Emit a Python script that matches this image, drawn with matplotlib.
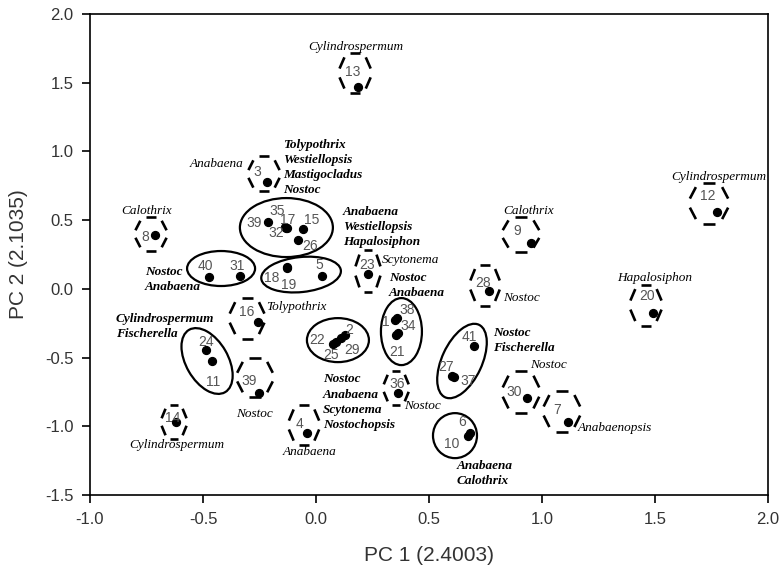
import numpy as np
import matplotlib
matplotlib.use('Agg')
import matplotlib.pyplot as plt
from matplotlib import transforms
from matplotlib.patches import Ellipse
from matplotlib.collections import LineCollection

# strain numbers and their PCA scores
ids = [1, 2, 3, 4, 5, 6, 7, 8, 9, 10, 11, 12, 13, 14, 15, 16, 17, 18, 19, 20,
       21, 22, 23, 24, 25, 26, 27, 28, 29, 30, 31, 32, 34, 35, 36, 37, 38, 39,
       39, 40, 41]
pc1 = [0.350, 0.128, -0.217, -0.040, 0.027, 0.681, 1.115, -0.712, 0.951, 0.673,
       -0.460, 1.774, 0.186, -0.619, -0.058, -0.257, -0.133, -0.128, -0.128, 1.491,
       0.354, 0.075, 0.230, -0.487, 0.088, -0.080, 0.602, 0.765, 0.111, 0.934,
       -0.336, -0.128, 0.363, -0.138, 0.363, 0.612, 0.358, -0.212,
       -0.252, -0.473, 0.699]
pc2 = [-0.227, -0.336, 0.777, -1.050, 0.093, -1.050, -0.969, 0.390, 0.333, -1.071,
       -0.525, 0.559, 1.470, -0.969, 0.435, -0.242, 0.443, 0.159, 0.152, -0.176,
       -0.336, -0.402, 0.108, -0.445, -0.387, 0.355, -0.635, -0.016, -0.358, -0.795,
       0.093, 0.440, -0.322, 0.448, -0.758, -0.645, -0.213, 0.486,
       -0.758, 0.086, -0.416]

# where each number is written (same order as ids)
num_pos = [(0.310, -0.242), (0.146, -0.300), (-0.261, 0.850), (-0.071, -0.984),
           (0.013, 0.173), (0.646, -0.969), (1.066, -0.882), (-0.757, 0.377),
           (0.889, 0.421), (0.602, -1.130), (-0.456, -0.678), (1.735, 0.675),
           (0.164, 1.578), (-0.633, -0.940), (-0.018, 0.501), (-0.305, -0.169),
           (-0.124, 0.501), (-0.195, 0.079), (-0.119, 0.028), (1.465, -0.052),
           (0.358, -0.460), (0.004, -0.373), (0.226, 0.173), (-0.486, -0.385),
           (0.066, -0.482), (-0.027, 0.311), (0.575, -0.569), (0.739, 0.042),
           (0.159, -0.445), (0.876, -0.751), (-0.350, 0.166), (-0.177, 0.406),
           (0.407, -0.271), (-0.173, 0.566), (0.360, -0.690), (0.673, -0.671),
           (0.403, -0.154), (-0.274, 0.479), (-0.296, -0.671), (-0.488, 0.166),
           (0.677, -0.351)]

# single strains: dashed hexagon (centre x, centre y, width px, height px)
hexes = [(0.173, 1.571, 35, 40), (-0.230, 0.836, 35, 35), (-0.730, 0.399, 35, 34),
         (0.230, 0.130, 28, 42), (-0.305, -0.213, 39, 41), (-0.270, -0.642, 40, 39),
         (-0.628, -0.969, 28, 34), (-0.053, -0.991, 34, 40), (0.355, -0.722, 28, 34),
         (0.907, -0.751, 41, 42), (1.088, -0.889, 41, 41), (1.739, 0.624, 43, 41),
         (1.460, -0.118, 35, 41), (0.907, 0.399, 41, 35), (0.748, 0.028, 33, 41)]

# groups: solid ellipse (centre x, centre y, width px, height px, angle)
groups = [(-0.131, 0.446, 93, 59, 0), (-0.420, 0.148, 68, 35, 0),
          (-0.066, 0.104, 80, 35, 6), (-0.482, -0.525, 72, 42, -60),
          (0.097, -0.373, 62, 44, 0), (0.378, -0.311, 67, 41, 90),
          (0.646, -0.525, 80, 40, 65), (0.615, -1.068, 44, 45, 0)]

# genus names of single strains (italic)
single_names = [('Cylindrospermum', 0.177, 1.76, 'center'),
                ('Anabaena', -0.323, 0.908, 'right'),
                ('Calothrix', -0.748, 0.566, 'center'),
                ('Scytonema', 0.292, 0.210, 'left'),
                ('Tolypothrix', -0.221, -0.132, 'left'),
                ('Calothrix', 0.942, 0.566, 'center'),
                ('Nostoc', 0.827, -0.067, 'left'),
                ('Cylindrospermum', 1.783, 0.814, 'center'),
                ('Hapalosiphon', 1.500, 0.079, 'center'),
                ('Nostoc', 0.947, -0.555, 'left'),
                ('Anabaenopsis', 1.159, -1.013, 'left'),
                ('Nostoc', 0.390, -0.855, 'left'),
                ('Nostoc', -0.274, -0.911, 'center'),
                ('Cylindrospermum', -0.615, -1.137, 'center'),
                ('Anabaena', -0.027, -1.188, 'center')]

# genus names of groups (bold italic)
group_names = [('Tolypothrix\nWestiellopsis\nMastigocladus\nNostoc', -0.146, 0.883),
               ('Anabaena\nWestiellopsis\nHapalosiphon', 0.119, 0.450),
               ('Nostoc\nAnabaena', -0.757, 0.071),
               ('Cylindrospermum\nFischerella', -0.885, -0.271),
               ('Nostoc\nAnabaena', 0.323, 0.024),
               ('Nostoc\nAnabaena\nScytonema\nNostochopsis', 0.031, -0.824),
               ('Nostoc\nFischerella', 0.783, -0.373),
               ('Anabaena\nCalothrix', 0.624, -1.344)]


fig = plt.figure(figsize=(7.8, 5.78), dpi=100)
ax = fig.add_axes((90/780, 1-495/578, 678/780, 481/578))
ax.set_xlim(-1.0, 2.0)
ax.set_ylim(-1.5, 2.0)


def at(x, y):
    # physical (inch) units, anchored at a data point
    return fig.dpi_scale_trans + transforms.ScaledTranslation(x, y, ax.transData)


def hexagon(x, y, w, h):
    # flat topped hexagon drawn as one dash per side
    w, h = w/200.0, h/200.0
    v = [(w, 0), (w/2, h), (-w/2, h), (-w, 0), (-w/2, -h), (w/2, -h), (w, 0)]
    segs = []
    for i in range(6):
        (x0, y0), (x1, y1) = v[i], v[i+1]
        segs.append([(x0 + 0.22*(x1-x0), y0 + 0.22*(y1-y0)),
                     (x0 + 0.78*(x1-x0), y0 + 0.78*(y1-y0))])
    ax.add_collection(LineCollection(segs, colors='k', linewidths=1.9,
                                     transform=at(x, y), capstyle='butt'))


for x, y, w, h in hexes:
    hexagon(x, y, w, h)

for x, y, w, h, a in groups:
    ax.add_patch(Ellipse((0, 0), w/100.0, h/100.0, angle=a, fill=False,
                         ec='k', lw=1.6, transform=at(x, y)))

ax.scatter(pc1, pc2, s=32, c='k', zorder=3)

for n, (x, y) in zip(ids, num_pos):
    ax.text(x, y, str(n), ha='center', va='center', fontsize=10,
            color='#555555', family='Liberation Sans')

for name, x, y, ha in single_names:
    ax.text(x, y, name, ha=ha, va='center', fontsize=9.5, style='italic',
            family='Liberation Serif')

for name, x, y in group_names:
    ax.text(x, y, name, ha='left', va='center', fontsize=9.5, style='italic',
            weight='bold', family='Liberation Serif', linespacing=1.35)

# tidy up
ax.set_xticks(np.arange(-1.0, 2.01, 0.5))
ax.set_yticks(np.arange(-1.5, 2.01, 0.5))
ax.xaxis.set_major_formatter(matplotlib.ticker.FormatStrFormatter('%.1f'))
ax.yaxis.set_major_formatter(matplotlib.ticker.FormatStrFormatter('%.1f'))
ax.tick_params(direction='out', length=6, width=1.2, labelsize=12,
               labelcolor='#333333', pad=6)
for lab in ax.get_xticklabels() + ax.get_yticklabels():
    lab.set_family('Liberation Sans')
for s in ax.spines.values():
    s.set_linewidth(1.2)
ax.set_xlabel('PC 1 (2.4003)', fontsize=15, color='#333333',
              family='Liberation Sans', labelpad=14)
ax.set_ylabel('PC 2 (2.1035)', fontsize=15, color='#333333',
              family='Liberation Sans', labelpad=12)

fig.savefig('out.png', dpi=100)
